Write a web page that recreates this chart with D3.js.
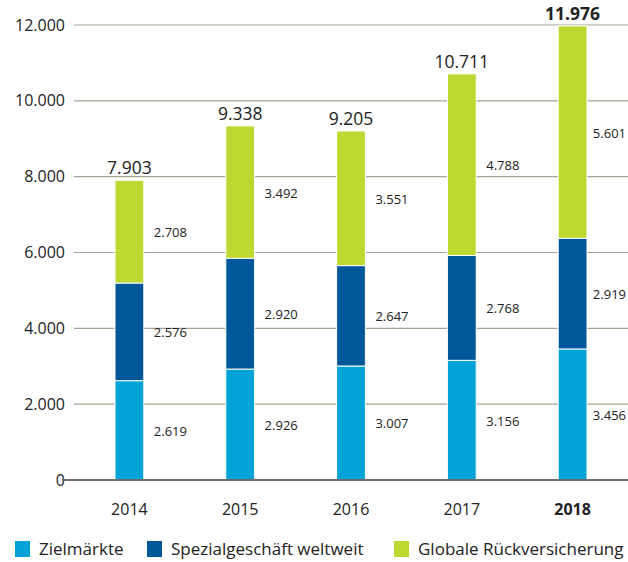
<!DOCTYPE html>
<html>
<head>
<meta charset="utf-8">
<script src="https://cdn.jsdelivr.net/npm/d3@7"></script>
<style>
  body { margin: 0; background: #fff; }
  text { font-family: 'Open Sans', 'Noto Sans', sans-serif; fill: #222; }
</style>
</head>
<body>
<div id="chart"></div>
<script>
;(function() {
  var years = ['2014', '2015', '2016', '2017', '2018']
  var zielmaerkte = [2619, 2926, 3007, 3156, 3456]
  var spezial = [2576, 2920, 2647, 2768, 2919]
  var global = [2708, 3492, 3551, 4788, 5601]
  var totals = [7903, 9338, 9205, 10711, 11976]
  var seriesNames = ['Zielmärkte', 'Spezialgeschäft weltweit', 'Globale Rückversicherung']
  var yTicks = [0, 2000, 4000, 6000, 8000, 10000, 12000]

  var width = 628
  var height = 562

  var fmt = d3.formatLocale({ decimal: ',', thousands: '.', grouping: [3], currency: ['', '€'] }).format(',')

  var svg = d3
    .select('#chart')
    .append('svg')
    .attr('width', width)
    .attr('height', height)

  var xPositionScale = d3
    .scaleBand()
    .domain(years)
    .range([74, 628])
    .paddingInner(0.74)
    .paddingOuter(0.37)

  var yPositionScale = d3
    .scaleLinear()
    .domain([0, 12000])
    .range([480, 25])

  var color = d3
    .scaleOrdinal()
    .domain(seriesNames)
    .range(['#00a3d5', '#00589b', '#bdd931'])

  // gridlines
  svg
    .selectAll('.grid')
    .data(yTicks.filter(d => d > 0))
    .enter()
    .append('line')
    .attr('x1', 74)
    .attr('x2', 628)
    .attr('y1', d => yPositionScale(d))
    .attr('y2', d => yPositionScale(d))
    .attr('stroke', '#aaa296')
    .attr('stroke-width', 1.2)

  var yAxis = d3.axisLeft(yPositionScale).tickValues(yTicks).tickFormat(fmt).tickSize(0).tickPadding(9)
  var yg = svg.append('g').attr('transform', 'translate(74,0)').call(yAxis)
  yg.select('.domain').remove()
  yg.selectAll('text').style('font-size', '16px').attr('fill', '#222')

  var table = years.map(function(y, i) {
    return { year: y, 'Zielmärkte': zielmaerkte[i], 'Spezialgeschäft weltweit': spezial[i], 'Globale Rückversicherung': global[i] }
  })
  var stacked = d3.stack().keys(seriesNames)(table)

  var layers = svg
    .selectAll('.layer')
    .data(stacked)
    .enter()
    .append('g')
    .attr('fill', d => color(d.key))

  layers
    .selectAll('rect')
    .data(d => d)
    .enter()
    .append('rect')
    .attr('x', d => xPositionScale(d.data.year))
    .attr('width', xPositionScale.bandwidth())
    .attr('y', d => yPositionScale(d[1]))
    .attr('height', d => yPositionScale(d[0]) - yPositionScale(d[1]))
    .attr('stroke', '#fff')
    .attr('stroke-width', 1)

  // segment value labels
  layers
    .selectAll('.val')
    .data(d => d)
    .enter()
    .append('text')
    .attr('y', d => (yPositionScale(d[0]) + yPositionScale(d[1])) / 2 + 5.5)
    .style('font-size', '13px')
    .text(d => fmt(d[1] - d[0]))
    .attr('x', function(d) {
      var x = xPositionScale(d.data.year) + xPositionScale.bandwidth() + 10
      var w = this.getComputedTextLength()
      return Math.min(x, width - 2 - w)
    })

  // totals
  svg
    .selectAll('.total')
    .data(totals)
    .enter()
    .append('text')
    .attr('x', (d, i) => xPositionScale(years[i]) + xPositionScale.bandwidth() / 2)
    .attr('y', d => yPositionScale(d) - 6)
    .attr('text-anchor', 'middle')
    .style('font-size', '17.5px')
    .style('font-weight', (d, i) => (i === years.length - 1 ? 'bold' : 'normal'))
    .text(d => fmt(d))

  // baseline
  svg
    .append('line')
    .attr('x1', 62)
    .attr('x2', 628)
    .attr('y1', yPositionScale(0))
    .attr('y2', yPositionScale(0))
    .attr('stroke', '#6e6e6e')
    .attr('stroke-width', 2)

  var xAxis = d3.axisBottom(xPositionScale).tickSize(0).tickPadding(24)
  var xg = svg.append('g').attr('transform', 'translate(0,480)').call(xAxis)
  xg.select('.domain').remove()
  xg.selectAll('text')
    .style('font-size', '16px')
    .style('font-weight', d => (d === '2018' ? 'bold' : 'normal'))

  // legend
  var legendX = [15, 147, 394]
  var legend = svg
    .selectAll('.legend')
    .data(seriesNames)
    .enter()
    .append('g')
    .attr('transform', (d, i) => 'translate(' + legendX[i] + ',541)')
  legend
    .append('rect')
    .attr('width', 15)
    .attr('height', 16)
    .attr('fill', d => color(d))
  legend
    .append('text')
    .attr('x', 24)
    .attr('y', 14)
    .style('font-size', '17px')
    .text(d => d)
})()
</script>
</body>
</html>
